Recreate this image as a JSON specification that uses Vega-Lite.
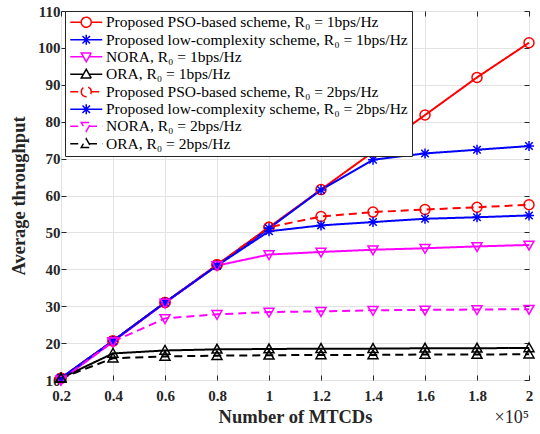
{
  "$schema": "https://vega.github.io/schema/vega-lite/v6.json",
  "width": 468,
  "height": 369,
  "autosize": {"type": "none"},
  "padding": {"left": 61, "top": 11, "right": 11, "bottom": 54},
  "background": "white",
  "title": {"text": "×10⁵", "orient": "bottom", "anchor": "end", "frame": "group", "offset": -17, "font": "Liberation Serif", "fontSize": 18, "fontWeight": "normal", "color": "#262626"},
  "data": {"values": [
    {"x": 0.2, "y": 10.5, "s": "Proposed PSO-based scheme, R₀ = 1bps/Hz"},
    {"x": 0.4, "y": 20.6, "s": "Proposed PSO-based scheme, R₀ = 1bps/Hz"},
    {"x": 0.6, "y": 31.0, "s": "Proposed PSO-based scheme, R₀ = 1bps/Hz"},
    {"x": 0.8, "y": 41.2, "s": "Proposed PSO-based scheme, R₀ = 1bps/Hz"},
    {"x": 1.0, "y": 51.4, "s": "Proposed PSO-based scheme, R₀ = 1bps/Hz"},
    {"x": 1.2, "y": 61.6, "s": "Proposed PSO-based scheme, R₀ = 1bps/Hz"},
    {"x": 1.4, "y": 71.8, "s": "Proposed PSO-based scheme, R₀ = 1bps/Hz"},
    {"x": 1.6, "y": 81.8, "s": "Proposed PSO-based scheme, R₀ = 1bps/Hz"},
    {"x": 1.8, "y": 92.0, "s": "Proposed PSO-based scheme, R₀ = 1bps/Hz"},
    {"x": 2.0, "y": 101.4, "s": "Proposed PSO-based scheme, R₀ = 1bps/Hz"},
    {"x": 0.2, "y": 10.5, "s": "Proposed low-complexity scheme, R₀ = 1bps/Hz"},
    {"x": 0.4, "y": 20.6, "s": "Proposed low-complexity scheme, R₀ = 1bps/Hz"},
    {"x": 0.6, "y": 31.0, "s": "Proposed low-complexity scheme, R₀ = 1bps/Hz"},
    {"x": 0.8, "y": 41.0, "s": "Proposed low-complexity scheme, R₀ = 1bps/Hz"},
    {"x": 1.0, "y": 51.1, "s": "Proposed low-complexity scheme, R₀ = 1bps/Hz"},
    {"x": 1.2, "y": 61.5, "s": "Proposed low-complexity scheme, R₀ = 1bps/Hz"},
    {"x": 1.4, "y": 69.7, "s": "Proposed low-complexity scheme, R₀ = 1bps/Hz"},
    {"x": 1.6, "y": 71.4, "s": "Proposed low-complexity scheme, R₀ = 1bps/Hz"},
    {"x": 1.8, "y": 72.4, "s": "Proposed low-complexity scheme, R₀ = 1bps/Hz"},
    {"x": 2.0, "y": 73.4, "s": "Proposed low-complexity scheme, R₀ = 1bps/Hz"},
    {"x": 0.2, "y": 10.0, "s": "NORA, R₀ = 1bps/Hz"},
    {"x": 0.4, "y": 20.4, "s": "NORA, R₀ = 1bps/Hz"},
    {"x": 0.6, "y": 30.9, "s": "NORA, R₀ = 1bps/Hz"},
    {"x": 0.8, "y": 41.0, "s": "NORA, R₀ = 1bps/Hz"},
    {"x": 1.0, "y": 44.0, "s": "NORA, R₀ = 1bps/Hz"},
    {"x": 1.2, "y": 44.7, "s": "NORA, R₀ = 1bps/Hz"},
    {"x": 1.4, "y": 45.3, "s": "NORA, R₀ = 1bps/Hz"},
    {"x": 1.6, "y": 45.7, "s": "NORA, R₀ = 1bps/Hz"},
    {"x": 1.8, "y": 46.2, "s": "NORA, R₀ = 1bps/Hz"},
    {"x": 2.0, "y": 46.6, "s": "NORA, R₀ = 1bps/Hz"},
    {"x": 0.2, "y": 10.5, "s": "ORA, R₀ = 1bps/Hz"},
    {"x": 0.4, "y": 17.2, "s": "ORA, R₀ = 1bps/Hz"},
    {"x": 0.6, "y": 18.0, "s": "ORA, R₀ = 1bps/Hz"},
    {"x": 0.8, "y": 18.3, "s": "ORA, R₀ = 1bps/Hz"},
    {"x": 1.0, "y": 18.4, "s": "ORA, R₀ = 1bps/Hz"},
    {"x": 1.2, "y": 18.5, "s": "ORA, R₀ = 1bps/Hz"},
    {"x": 1.4, "y": 18.5, "s": "ORA, R₀ = 1bps/Hz"},
    {"x": 1.6, "y": 18.6, "s": "ORA, R₀ = 1bps/Hz"},
    {"x": 1.8, "y": 18.6, "s": "ORA, R₀ = 1bps/Hz"},
    {"x": 2.0, "y": 18.7, "s": "ORA, R₀ = 1bps/Hz"},
    {"x": 0.2, "y": 10.5, "s": "Proposed PSO-based scheme, R₀ = 2bps/Hz"},
    {"x": 0.4, "y": 20.6, "s": "Proposed PSO-based scheme, R₀ = 2bps/Hz"},
    {"x": 0.6, "y": 31.0, "s": "Proposed PSO-based scheme, R₀ = 2bps/Hz"},
    {"x": 0.8, "y": 41.2, "s": "Proposed PSO-based scheme, R₀ = 2bps/Hz"},
    {"x": 1.0, "y": 51.4, "s": "Proposed PSO-based scheme, R₀ = 2bps/Hz"},
    {"x": 1.2, "y": 54.3, "s": "Proposed PSO-based scheme, R₀ = 2bps/Hz"},
    {"x": 1.4, "y": 55.5, "s": "Proposed PSO-based scheme, R₀ = 2bps/Hz"},
    {"x": 1.6, "y": 56.2, "s": "Proposed PSO-based scheme, R₀ = 2bps/Hz"},
    {"x": 1.8, "y": 56.8, "s": "Proposed PSO-based scheme, R₀ = 2bps/Hz"},
    {"x": 2.0, "y": 57.5, "s": "Proposed PSO-based scheme, R₀ = 2bps/Hz"},
    {"x": 0.2, "y": 10.5, "s": "Proposed low-complexity scheme, R₀ = 2bps/Hz"},
    {"x": 0.4, "y": 20.6, "s": "Proposed low-complexity scheme, R₀ = 2bps/Hz"},
    {"x": 0.6, "y": 31.0, "s": "Proposed low-complexity scheme, R₀ = 2bps/Hz"},
    {"x": 0.8, "y": 41.0, "s": "Proposed low-complexity scheme, R₀ = 2bps/Hz"},
    {"x": 1.0, "y": 50.3, "s": "Proposed low-complexity scheme, R₀ = 2bps/Hz"},
    {"x": 1.2, "y": 51.9, "s": "Proposed low-complexity scheme, R₀ = 2bps/Hz"},
    {"x": 1.4, "y": 52.8, "s": "Proposed low-complexity scheme, R₀ = 2bps/Hz"},
    {"x": 1.6, "y": 53.7, "s": "Proposed low-complexity scheme, R₀ = 2bps/Hz"},
    {"x": 1.8, "y": 54.1, "s": "Proposed low-complexity scheme, R₀ = 2bps/Hz"},
    {"x": 2.0, "y": 54.6, "s": "Proposed low-complexity scheme, R₀ = 2bps/Hz"},
    {"x": 0.2, "y": 10.0, "s": "NORA, R₀ = 2bps/Hz"},
    {"x": 0.4, "y": 20.4, "s": "NORA, R₀ = 2bps/Hz"},
    {"x": 0.6, "y": 26.7, "s": "NORA, R₀ = 2bps/Hz"},
    {"x": 0.8, "y": 27.8, "s": "NORA, R₀ = 2bps/Hz"},
    {"x": 1.0, "y": 28.4, "s": "NORA, R₀ = 2bps/Hz"},
    {"x": 1.2, "y": 28.6, "s": "NORA, R₀ = 2bps/Hz"},
    {"x": 1.4, "y": 28.9, "s": "NORA, R₀ = 2bps/Hz"},
    {"x": 1.6, "y": 29.0, "s": "NORA, R₀ = 2bps/Hz"},
    {"x": 1.8, "y": 29.1, "s": "NORA, R₀ = 2bps/Hz"},
    {"x": 2.0, "y": 29.2, "s": "NORA, R₀ = 2bps/Hz"},
    {"x": 0.2, "y": 10.5, "s": "ORA, R₀ = 2bps/Hz"},
    {"x": 0.4, "y": 15.9, "s": "ORA, R₀ = 2bps/Hz"},
    {"x": 0.6, "y": 16.4, "s": "ORA, R₀ = 2bps/Hz"},
    {"x": 0.8, "y": 16.6, "s": "ORA, R₀ = 2bps/Hz"},
    {"x": 1.0, "y": 16.7, "s": "ORA, R₀ = 2bps/Hz"},
    {"x": 1.2, "y": 16.8, "s": "ORA, R₀ = 2bps/Hz"},
    {"x": 1.4, "y": 16.8, "s": "ORA, R₀ = 2bps/Hz"},
    {"x": 1.6, "y": 16.9, "s": "ORA, R₀ = 2bps/Hz"},
    {"x": 1.8, "y": 16.9, "s": "ORA, R₀ = 2bps/Hz"},
    {"x": 2.0, "y": 17.0, "s": "ORA, R₀ = 2bps/Hz"}
  ]},
  "encoding": {
    "x": {"field": "x", "type": "quantitative", "scale": {"domain": [0.2, 2], "nice": false, "zero": false}, "axis": null},
    "y": {"field": "y", "type": "quantitative", "scale": {"domain": [10, 110], "nice": false, "zero": false}, "axis": null},
    "color": {"field": "s", "type": "nominal",
      "scale": {"domain": ["Proposed PSO-based scheme, R₀ = 1bps/Hz", "Proposed low-complexity scheme, R₀ = 1bps/Hz", "NORA, R₀ = 1bps/Hz", "ORA, R₀ = 1bps/Hz", "Proposed PSO-based scheme, R₀ = 2bps/Hz", "Proposed low-complexity scheme, R₀ = 2bps/Hz", "NORA, R₀ = 2bps/Hz", "ORA, R₀ = 2bps/Hz"],
        "range": ["#ff0000", "#0000ff", "#ff00ff", "#000000", "#ff0000", "#0000ff", "#ff00ff", "#000000"]},
      "legend": {"title": null, "orient": "none", "legendX": 4, "legendY": 0, "padding": 3.5, "fillColor": "white", "strokeColor": "#262626", "labelFont": "Liberation Serif", "labelFontSize": 15.5, "labelColor": "black", "symbolSize": 100, "symbolStrokeWidth": 1.5, "symbolOffset": 10, "labelOffset": 12, "rowPadding": -0.5, "labelLimit": 400}}
  },
  "layer": [
    {
      "mark": {"type": "line", "strokeWidth": 2},
      "encoding": {
        "x": {"field": "x", "type": "quantitative", "title": "Number of MTCDs",
          "scale": {"domain": [0.2, 2], "nice": false, "zero": false},
          "axis": {"orient": "bottom", "values": [0.2, 0.4, 0.6, 0.8, 1.0, 1.2, 1.4, 1.6, 1.8, 2.0], "format": ".1~f", "labelPadding": 13, "titlePadding": 4, "labelFlush": false, "labelOverlap": false}},
        "y": {"field": "y", "type": "quantitative", "title": "Average throughput",
          "scale": {"domain": [10, 110], "nice": false, "zero": false},
          "axis": {"orient": "left", "values": [10, 20, 30, 40, 50, 60, 70, 80, 90, 100, 110], "labelPadding": 6, "titlePadding": 9, "labelFlush": false, "labelOverlap": false}},
        "strokeDash": {"field": "s", "type": "nominal",
          "scale": {"domain": ["Proposed PSO-based scheme, R₀ = 1bps/Hz", "Proposed low-complexity scheme, R₀ = 1bps/Hz", "NORA, R₀ = 1bps/Hz", "ORA, R₀ = 1bps/Hz", "Proposed PSO-based scheme, R₀ = 2bps/Hz", "Proposed low-complexity scheme, R₀ = 2bps/Hz", "NORA, R₀ = 2bps/Hz", "ORA, R₀ = 2bps/Hz"],
            "range": [[1, 0], [1, 0], [1, 0], [1, 0], [8, 5], [1, 0], [8, 5], [8, 5]]},
          "legend": {"title": null, "orient": "none", "legendX": 4, "legendY": 0, "padding": 3.5, "fillColor": "white", "strokeColor": "#262626", "labelFont": "Liberation Serif", "labelFontSize": 15.5, "labelColor": "black", "symbolSize": 100, "symbolStrokeWidth": 1.5, "symbolOffset": 10, "labelOffset": 12, "rowPadding": -0.5, "labelLimit": 400}}
      }
    },
    {
      "transform": [{"filter": "false"}],
      "mark": {"type": "point", "filled": false, "size": 100, "strokeWidth": 1.5, "opacity": 1},
      "encoding": {
        "shape": {"field": "s", "type": "nominal",
          "scale": {"domain": ["Proposed PSO-based scheme, R₀ = 1bps/Hz", "Proposed low-complexity scheme, R₀ = 1bps/Hz", "NORA, R₀ = 1bps/Hz", "ORA, R₀ = 1bps/Hz", "Proposed PSO-based scheme, R₀ = 2bps/Hz", "Proposed low-complexity scheme, R₀ = 2bps/Hz", "NORA, R₀ = 2bps/Hz", "ORA, R₀ = 2bps/Hz"],
            "range": ["M-3.2,0L-1,0M1,0L3.2,0M-1,0A1,1,0,1,0,1,0A1,1,0,1,0,-1,0", "M-3.2,0L3.2,0M0,-1L0,1M-0.75,-0.75L0.75,0.75M-0.75,0.75L0.75,-0.75", "M-3.2,0L-0.55,0M0.55,0L3.2,0M-1,-0.75L1,-0.75L0,1Z", "M-3.2,0L-0.55,0M0.55,0L3.2,0M-1,0.75L1,0.75L0,-1Z", "M-3.2,0L-1,0M1,0L3.2,0M-1,0A1,1,0,1,0,1,0A1,1,0,1,0,-1,0", "M-3.2,0L3.2,0M0,-1L0,1M-0.75,-0.75L0.75,0.75M-0.75,0.75L0.75,-0.75", "M-3.2,0L-0.55,0M0.55,0L3.2,0M-1,-0.75L1,-0.75L0,1Z", "M-3.2,0L-0.55,0M0.55,0L3.2,0M-1,0.75L1,0.75L0,-1Z"]},
          "legend": {"title": null, "orient": "none", "legendX": 4, "legendY": 0, "padding": 3.5, "fillColor": "white", "strokeColor": "#262626", "labelFont": "Liberation Serif", "labelFontSize": 15.5, "labelColor": "black", "symbolSize": 100, "symbolStrokeWidth": 1.5, "symbolOffset": 10, "labelOffset": 12, "rowPadding": -0.5, "labelLimit": 400}}
      }
    },
    {
      "transform": [{"filter": {"field": "s", "oneOf": ["Proposed PSO-based scheme, R₀ = 1bps/Hz", "Proposed PSO-based scheme, R₀ = 2bps/Hz"]}}],
      "mark": {"type": "point", "filled": false, "size": 100, "strokeWidth": 1.5, "opacity": 1, "shape": "circle"}
    },
    {
      "transform": [{"filter": {"field": "s", "oneOf": ["Proposed low-complexity scheme, R₀ = 1bps/Hz", "Proposed low-complexity scheme, R₀ = 2bps/Hz"]}}],
      "mark": {"type": "point", "filled": false, "size": 100, "strokeWidth": 1.5, "opacity": 1, "shape": "M-1,0L1,0M0,-1L0,1M-0.75,-0.75L0.75,0.75M-0.75,0.75L0.75,-0.75"}
    },
    {
      "transform": [{"filter": {"field": "s", "oneOf": ["NORA, R₀ = 1bps/Hz", "NORA, R₀ = 2bps/Hz"]}}],
      "mark": {"type": "point", "filled": false, "size": 100, "strokeWidth": 1.5, "opacity": 1, "shape": "M-1,-0.75L1,-0.75L0,1Z"}
    },
    {
      "transform": [{"filter": {"field": "s", "oneOf": ["ORA, R₀ = 1bps/Hz", "ORA, R₀ = 2bps/Hz"]}}],
      "mark": {"type": "point", "filled": false, "size": 100, "strokeWidth": 1.5, "opacity": 1, "shape": "M-1,0.75L1,0.75L0,-1Z"},
      "encoding": {
        "x": {"field": "x", "type": "quantitative",
          "scale": {"domain": [0.2, 2], "nice": false, "zero": false},
          "axis": {"orient": "top", "values": [0.2, 0.4, 0.6, 0.8, 1.0, 1.2, 1.4, 1.6, 1.8, 2.0], "labels": false, "grid": false, "title": null}},
        "y": {"field": "y", "type": "quantitative",
          "scale": {"domain": [10, 110], "nice": false, "zero": false},
          "axis": {"orient": "right", "values": [10, 20, 30, 40, 50, 60, 70, 80, 90, 100, 110], "labels": false, "grid": false, "title": null}}
      }
    }
  ],
  "resolve": {"axis": {"x": "independent", "y": "independent"}},
  "config": {
    "view": {"stroke": "#262626", "strokeWidth": 1},
    "legend": {"labelFont": "Liberation Serif"},
    "axis": {"domain": false, "grid": true, "gridColor": "#e3e3e3", "gridWidth": 1, "ticks": true, "tickSize": -5, "tickColor": "#262626", "tickWidth": 1,
      "labelFont": "Liberation Serif", "labelFontWeight": "bold", "labelFontSize": 15, "labelColor": "#262626",
      "titleFont": "Liberation Serif", "titleFontWeight": "bold", "titleFontSize": 18.5, "titleColor": "#262626"}
  }
}
